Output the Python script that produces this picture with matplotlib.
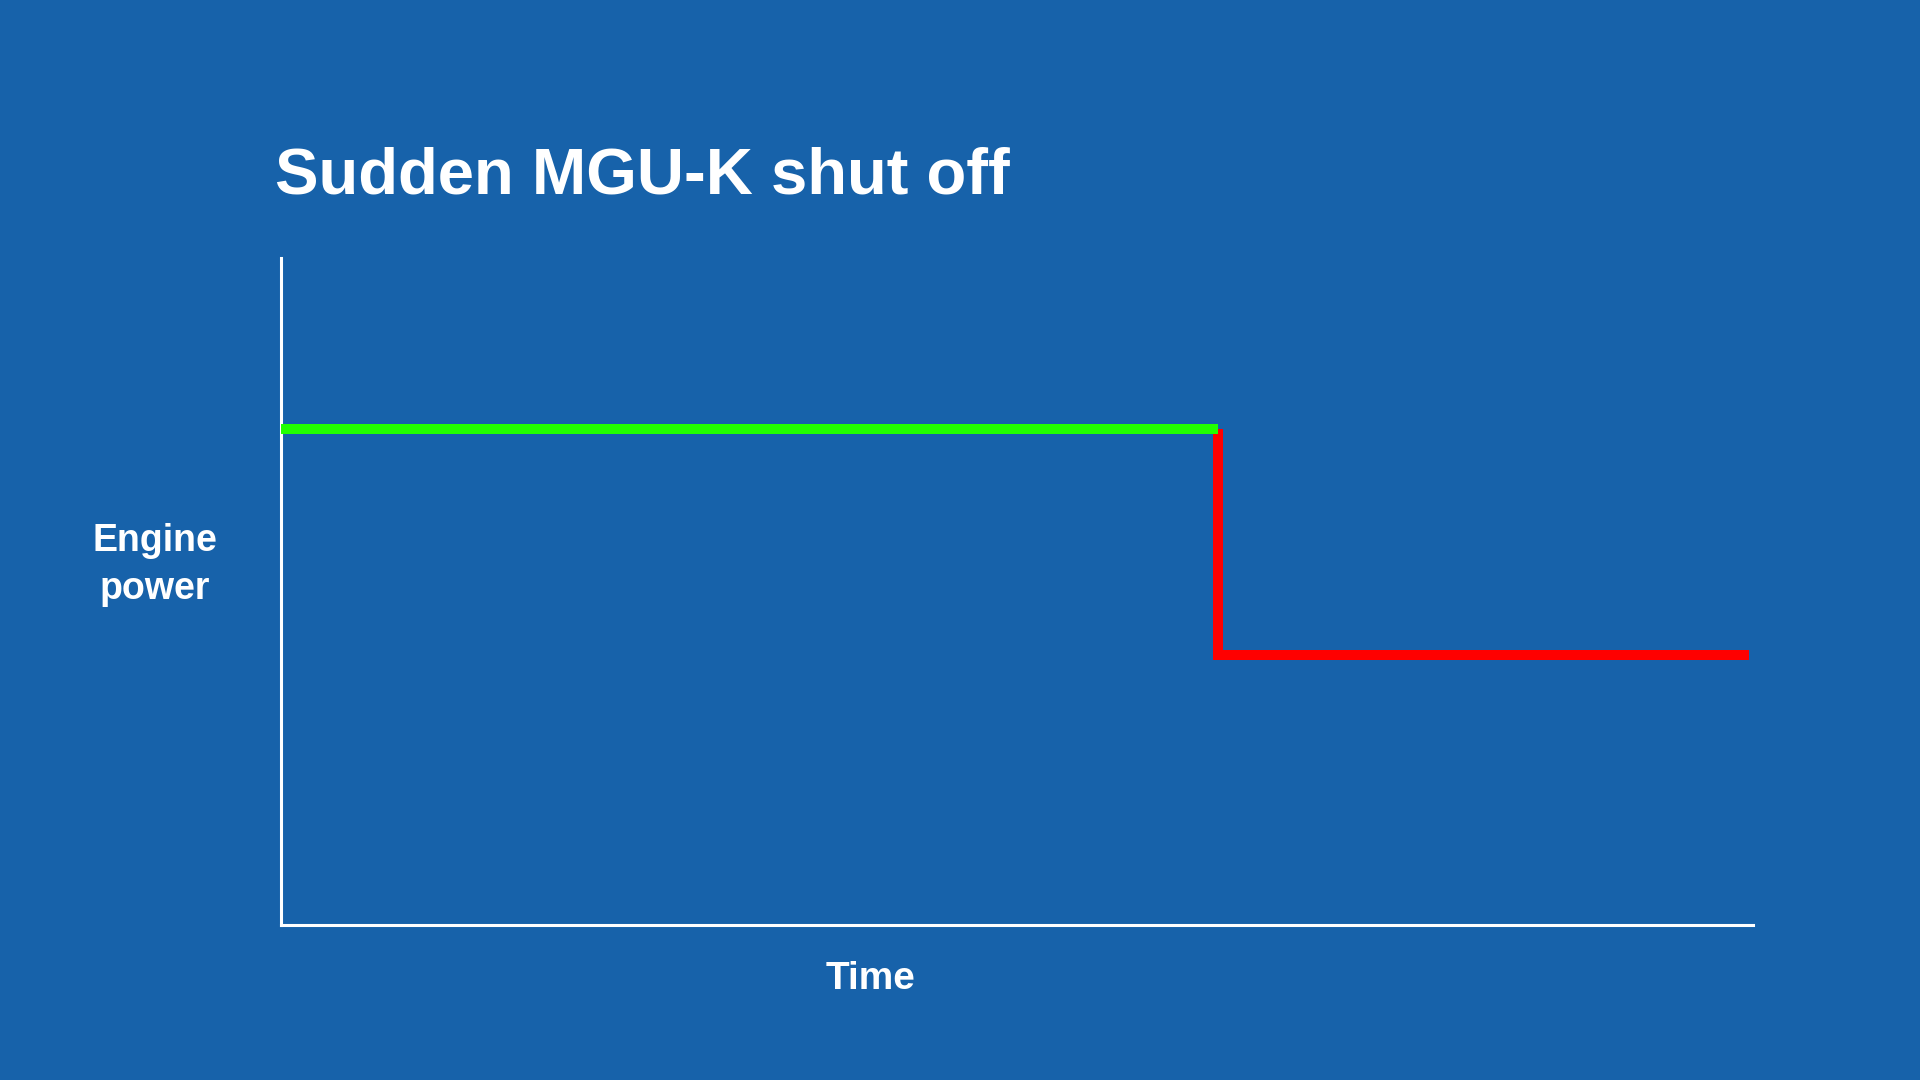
import matplotlib
matplotlib.use("Agg")
import matplotlib.pyplot as plt

# --- data (illustrative step: power before/after MGU-K shut off) ---
time_before = [0, 63.65]
power_before = [74.4, 74.4]
time_after = [63.65, 63.65, 99.7]
power_after = [74.4, 40.5, 40.5]

title = "Sudden MGU-K shut off"
x_label = "Time"
y_label = "Engine\npower"

bg = "#1762aa"
W, H = 1920, 1080

plt.rcParams['font.family'] = ['Liberation Sans', 'DejaVu Sans']

fig = plt.figure(figsize=(W / 100, H / 100), dpi=100, facecolor=bg)

# axes box in pixels: left 281, right 1753, top 258, bottom 924.5
left, right, top, bottom = 281, 1753, 258, 924.5
ax = fig.add_axes([left / W, 1 - bottom / H, (right - left) / W, (bottom - top) / H])
ax.set_facecolor("none")
ax.set_xlim(0, 100)
ax.set_ylim(0, 100)

ax.plot(time_after, power_after, color="#ff0000", lw=7.2,
        solid_capstyle="butt", solid_joinstyle="miter", zorder=3)
ax.plot(time_before, power_before, color="#22ff00", lw=7.2,
        solid_capstyle="butt", zorder=4)

for s in ["top", "right"]:
    ax.spines[s].set_visible(False)
for s in ["left", "bottom"]:
    ax.spines[s].set_color("white")
    ax.spines[s].set_linewidth(2.2)
ax.set_xticks([])
ax.set_yticks([])

fig.text(275 / W, 1 - 194 / H, title, color="white", fontsize=47,
         fontweight="bold", ha="left", va="baseline")
fig.text(871 / W, 1 - 989 / H, x_label, color="white", fontsize=28,
         fontweight="bold", ha="center", va="baseline")
fig.text(155 / W, 1 - 565 / H, y_label, color="white", fontsize=27,
         fontweight="bold", ha="center", va="center", multialignment="center",
         linespacing=1.45)

fig.savefig("out.png", dpi=100, facecolor=bg)
